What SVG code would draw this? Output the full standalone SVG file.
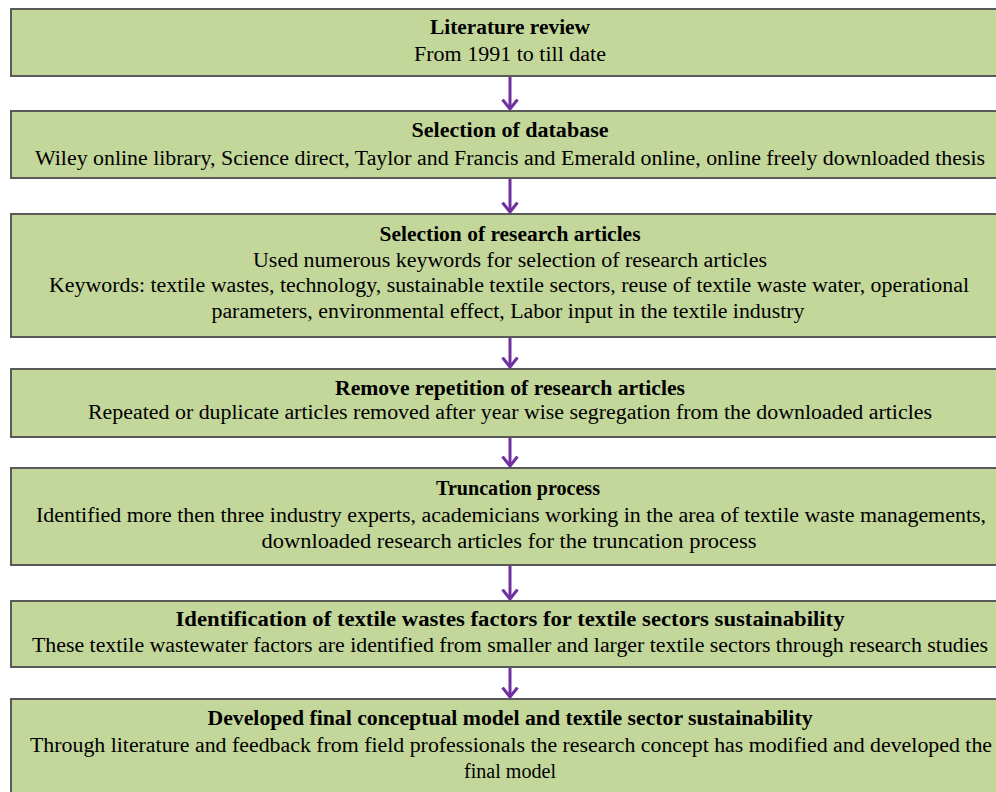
<svg xmlns="http://www.w3.org/2000/svg" width="996" height="792" viewBox="0 0 996 792">
<style>
.box{fill:#C4D79B;stroke:#595959;stroke-width:2}
text{font-family:"Liberation Serif","Times New Roman",serif;font-size:20px;fill:#000;text-anchor:middle}
.t{font-weight:bold}
.arrow{stroke:#7030A0;stroke-width:3;fill:none}
</style>
<defs>
<marker id="ah" viewBox="0 0 12 18" refX="10.5" refY="9" markerWidth="12" markerHeight="18" markerUnits="userSpaceOnUse" orient="auto">
<path d="M1,1.5 L10.5,9 L1,16.5" fill="none" stroke="#7030A0" stroke-width="3"/>
</marker>
</defs>
<rect width="996" height="792" fill="#fff"/>
<g id="connectors">
<line class="arrow" x1="510" y1="77" x2="510" y2="109" marker-end="url(#ah)"/>
<line class="arrow" x1="510" y1="179" x2="510" y2="212" marker-end="url(#ah)"/>
<line class="arrow" x1="510" y1="338" x2="510" y2="367" marker-end="url(#ah)"/>
<line class="arrow" x1="510" y1="438" x2="510" y2="466" marker-end="url(#ah)"/>
<line class="arrow" x1="510" y1="566" x2="510" y2="599" marker-end="url(#ah)"/>
<line class="arrow" x1="510" y1="668" x2="510" y2="697" marker-end="url(#ah)"/>
</g>
<g id="n1">
<rect class="box" x="11" y="9" width="998" height="67"/>
<text class="t" x="510" y="34" textLength="160" lengthAdjust="spacingAndGlyphs">Literature review</text>
<text x="510" y="61" textLength="192" lengthAdjust="spacingAndGlyphs">From 1991 to till date</text>
</g>
<g id="n2">
<rect class="box" x="11" y="111" width="998" height="67"/>
<text class="t" x="510" y="137" textLength="197" lengthAdjust="spacingAndGlyphs">Selection of database</text>
<text x="510" y="165" textLength="950" lengthAdjust="spacingAndGlyphs">Wiley online library, Science direct, Taylor and Francis and Emerald online, online freely downloaded thesis</text>
</g>
<g id="n3">
<rect class="box" x="11" y="214" width="998" height="123"/>
<text class="t" x="510" y="241" textLength="261" lengthAdjust="spacingAndGlyphs">Selection of research articles</text>
<text x="510" y="267" textLength="514" lengthAdjust="spacingAndGlyphs">Used numerous keywords for selection of research articles</text>
<text x="509" y="292" textLength="920" lengthAdjust="spacingAndGlyphs">Keywords: textile wastes, technology, sustainable textile sectors, reuse of textile waste water, operational</text>
<text x="508" y="318" textLength="593" lengthAdjust="spacingAndGlyphs">parameters, environmental effect, Labor input in the textile industry</text>
</g>
<g id="n4">
<rect class="box" x="11" y="369" width="998" height="68"/>
<text class="t" x="510" y="395" textLength="350" lengthAdjust="spacingAndGlyphs">Remove repetition of research articles</text>
<text x="510" y="419" textLength="844" lengthAdjust="spacingAndGlyphs">Repeated or duplicate articles removed after year wise segregation from the downloaded articles</text>
</g>
<g id="n5">
<rect class="box" x="11" y="468" width="998" height="97"/>
<text class="t" x="518" y="495" textLength="164" lengthAdjust="spacingAndGlyphs">Truncation process</text>
<text x="511" y="522" textLength="950" lengthAdjust="spacingAndGlyphs">Identified more then three industry experts, academicians working in the area of textile waste managements,</text>
<text x="509" y="548" textLength="495" lengthAdjust="spacingAndGlyphs">downloaded research articles for the truncation process</text>
</g>
<g id="n6">
<rect class="box" x="11" y="601" width="998" height="66"/>
<text class="t" x="510" y="626" textLength="669" lengthAdjust="spacingAndGlyphs">Identification of textile wastes factors for textile sectors sustainability</text>
<text x="510" y="652" textLength="956" lengthAdjust="spacingAndGlyphs">These textile wastewater factors are identified from smaller and larger textile sectors through research studies</text>
</g>
<g id="n7">
<rect class="box" x="11" y="699" width="998" height="110"/>
<text class="t" x="510" y="725" textLength="605" lengthAdjust="spacingAndGlyphs">Developed final conceptual model and textile sector sustainability</text>
<text x="511" y="752" textLength="962" lengthAdjust="spacingAndGlyphs">Through literature and feedback from field professionals the research concept has modified and developed the</text>
<text x="510" y="778" textLength="92" lengthAdjust="spacingAndGlyphs">final model</text>
</g>
</svg>
